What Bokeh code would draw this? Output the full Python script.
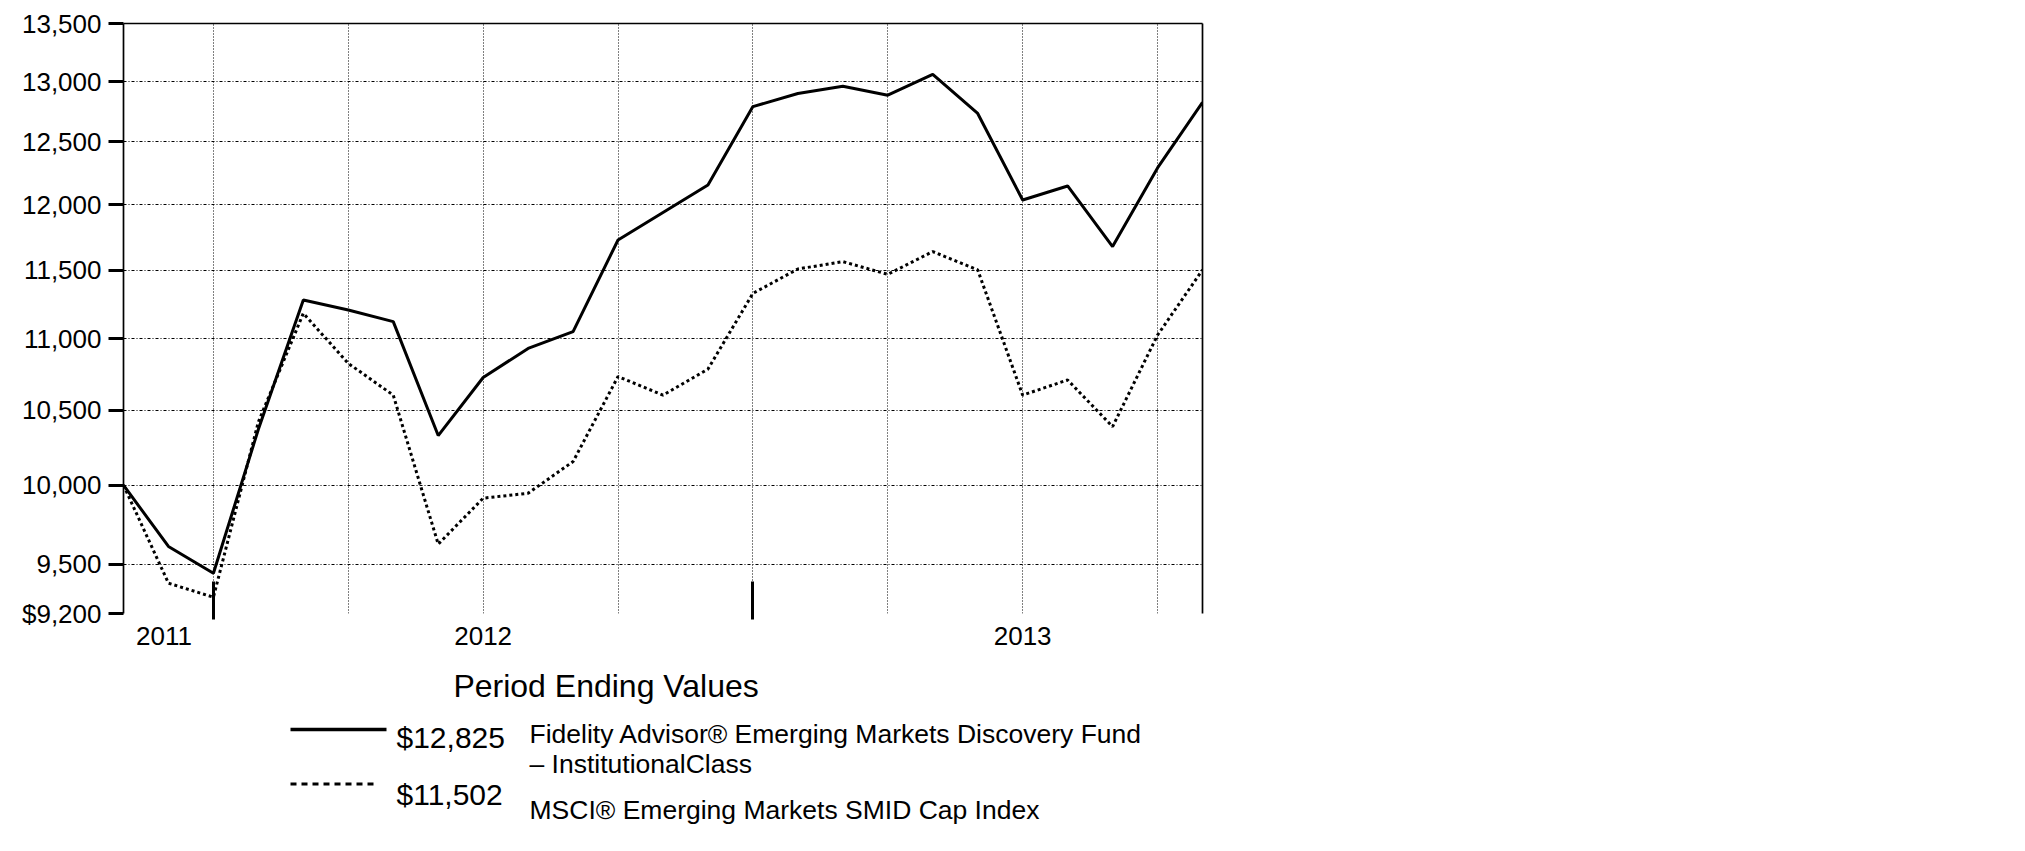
from bokeh.plotting import figure
from bokeh.models import Range1d, FixedTicker, LinearAxis, LogAxis
from bokeh.layouts import column
from bokeh.embed import file_html
from bokeh.resources import INLINE
from bokeh.core.properties import value

# ---------------- data ----------------
months = list(range(25))
fund_values = [10000, 9610, 9444, 10370, 11279, 11206, 11122, 10328, 10725, 10930,
               11050, 11728, 11940, 12155, 12790, 12900, 12961, 12885, 13060, 12733,
               12037, 12147, 11678, 12290, 12825]
index_values = [10000, 9383, 9298, 10420, 11182, 10824, 10603, 9624, 9916, 9948,
                10155, 10732, 10603, 10784, 11328, 11509, 11564, 11469, 11640, 11502,
                10603, 10708, 10388, 11025, 11502]

y_ticks = [9200, 9500, 10000, 10500, 11000, 11500, 12000, 12500, 13000, 13500]
y_tick_labels = ["$9,200", "9,500", "10,000", "10,500", "11,000", "11,500",
                 "12,000", "12,500", "13,000", "13,500"]
y_grid = [9500, 10000, 10500, 11000, 11500, 12000, 12500, 13000]
x_grid = [2, 5, 8, 11, 14, 17, 20, 23]
year_label_pos = [0.9, 8, 20]
year_labels = ["2011", "2012", "2013"]
year_boundaries = [2, 14]

legend_title = "Period Ending Values"
fund_end = "$12,825"
index_end = "$11,502"
fund_name_1 = "Fidelity Advisor® Emerging Markets Discovery Fund"
fund_name_2 = "– InstitutionalClass"
index_name = "MSCI® Emerging Markets SMID Cap Index"

FONT = "Liberation Sans"

BL, BR, BT, BB = 123, 54, 23, 43
FW, FH = 1079, 590
W = BL + FW + BR

# ---------------- main chart ----------------
p = figure(width=W, height=BT + FH + BB,
           x_range=Range1d(0, 24), y_range=Range1d(9200, 13500),
           y_axis_type="log", x_axis_location=None, y_axis_location=None,
           output_backend="svg", toolbar_location=None,
           min_border_left=BL, min_border_right=BR,
           min_border_top=BT, min_border_bottom=BB)
p.outline_line_color = None
p.background_fill_color = "white"
p.border_fill_color = "white"

p.xgrid.ticker = FixedTicker(ticks=x_grid)
p.ygrid.ticker = FixedTicker(ticks=y_grid)
for g in (p.xgrid, p.ygrid):
    g.grid_line_color = "black"
    g.grid_line_width = 1
    g.grid_line_alpha = 1.0
p.xgrid.grid_line_dash = "1 2"
p.ygrid.grid_line_dash = "3 2 1 2"

left = LogAxis(ticker=FixedTicker(ticks=y_ticks),
               major_label_overrides={t: l for t, l in zip(y_ticks, y_tick_labels)},
               axis_line_color="black", axis_line_width=1.7,
               major_tick_line_color="black", major_tick_line_width=3,
               major_tick_out=15, major_tick_in=0,
               minor_tick_line_color=None,
               major_label_standoff=7,
               major_label_text_font=FONT, major_label_text_font_size="26px",
               major_label_text_color="black")
p.add_layout(left, "left")

top = LinearAxis(ticker=FixedTicker(ticks=[]), axis_line_color="black",
                 axis_line_width=1.7, major_tick_line_color=None,
                 minor_tick_line_color=None, major_tick_out=0,
                 major_label_standoff=0, major_label_text_font_size="0px")
p.add_layout(top, "above")

right = LogAxis(ticker=FixedTicker(ticks=[]), axis_line_color="black",
                axis_line_width=1.7, major_tick_line_color=None,
                minor_tick_line_color=None, major_tick_out=0,
                major_label_standoff=0, major_label_text_font_size="0px")
p.add_layout(right, "right")

bottom = LinearAxis(ticker=FixedTicker(ticks=year_label_pos, minor_ticks=year_boundaries),
                    major_label_overrides={t: l for t, l in zip(year_label_pos, year_labels)},
                    axis_line_color=None,
                    major_tick_line_color=None, major_tick_out=0, major_tick_in=0,
                    minor_tick_line_color="black", minor_tick_line_width=3,
                    minor_tick_in=32, minor_tick_out=6,
                    major_label_standoff=7,
                    major_label_text_font=FONT, major_label_text_font_size="26px",
                    major_label_text_color="black")
p.add_layout(bottom, "below")

p.line(months, fund_values, line_color="black", line_width=3)
p.line(months, index_values, line_color="black", line_width=3, line_dash="3 3")

# ---------------- legend panel ----------------
H2 = 180
q = figure(width=W, height=H2, x_range=Range1d(BL, BL + FW), y_range=Range1d(H2, 0),
           x_axis_location=None, y_axis_location=None,
           output_backend="svg", toolbar_location=None,
           min_border_left=BL, min_border_right=BR, min_border_top=0, min_border_bottom=0)
q.outline_line_color = None
q.xgrid.visible = False
q.ygrid.visible = False

q.text(x=[605.6], y=[29], text=[legend_title], text_font=value(FONT),
       text_font_size="32px", text_align="center", text_baseline="alphabetic",
       text_color="black")
q.line(x=[290, 386], y=[73, 73], line_color="black", line_width=3.5)
q.line(x=[290, 376], y=[127.5, 127.5], line_color="black", line_width=3, line_dash="6 5")
q.text(x=[396, 396], y=[80.5, 137.5], text=[fund_end, index_end], text_font=value(FONT),
       text_font_size="30px", text_align="left", text_baseline="alphabetic",
       text_color="black")
q.text(x=[529, 529, 529], y=[77.7, 107.5, 153], text=[fund_name_1, fund_name_2, index_name],
       text_font=value(FONT), text_font_size="26.5px", text_align="left",
       text_baseline="alphabetic", text_color="black")

layout = column(p, q, spacing=0)
open("out.html", "w").write(file_html(layout, INLINE))
